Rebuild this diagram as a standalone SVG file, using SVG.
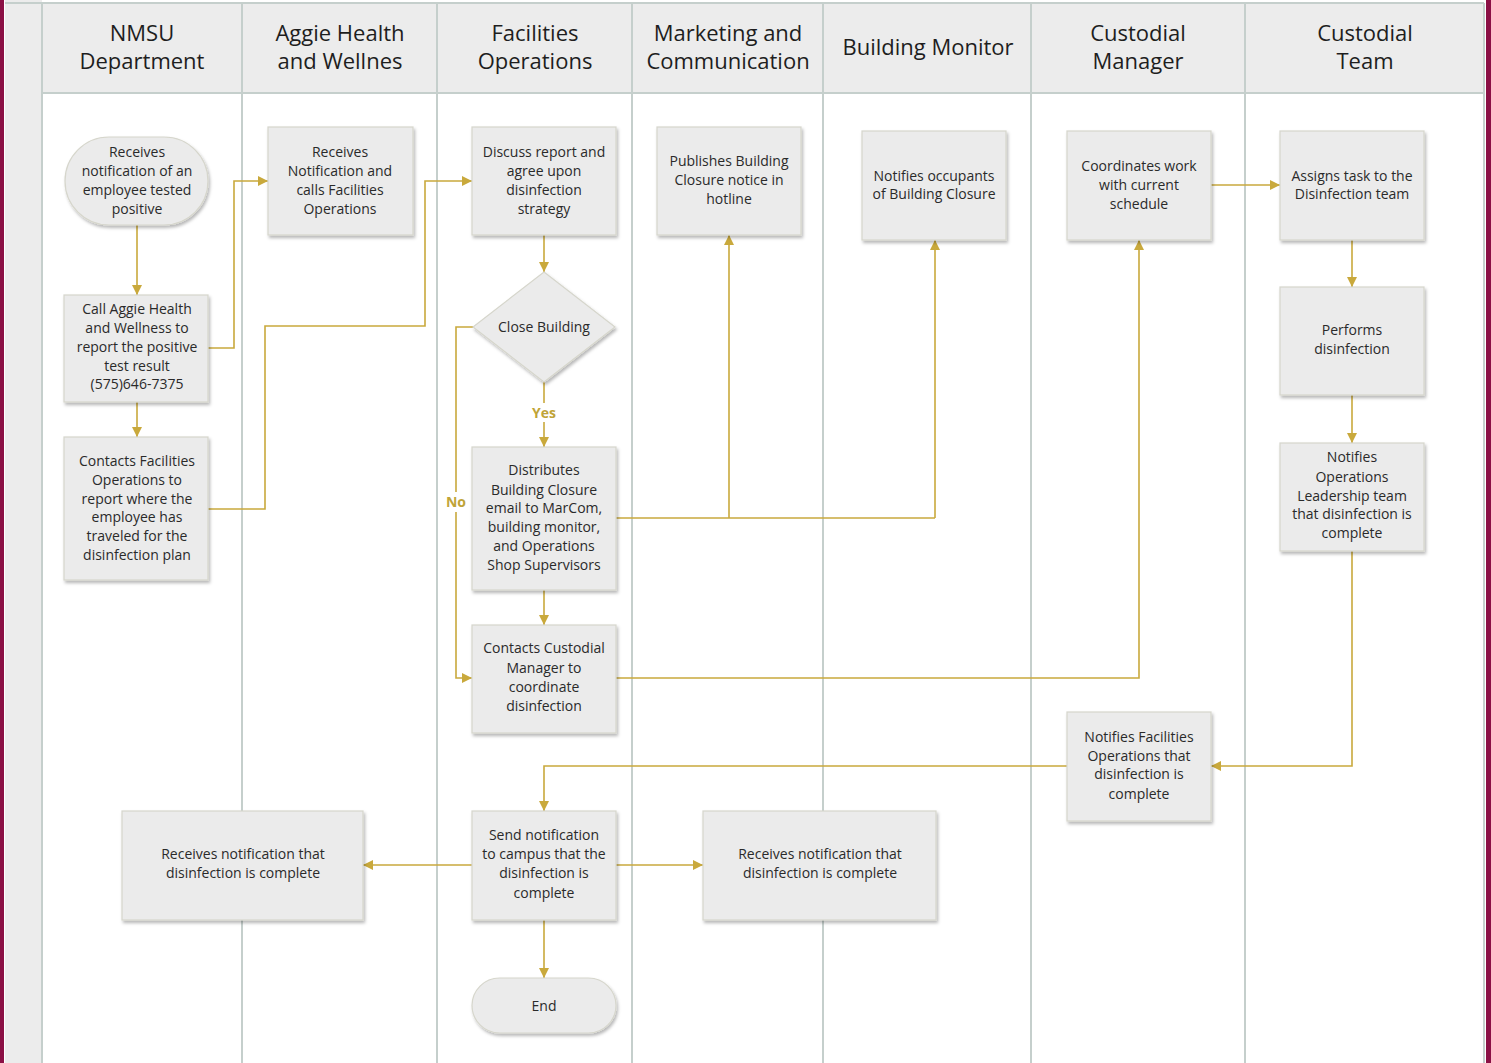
<svg xmlns="http://www.w3.org/2000/svg" width="1491" height="1063" viewBox="0 0 1491 1063">
<defs>
<style>
.hdr{fill:#ececec}
.lane{stroke:#c5cfcc;stroke-width:2;fill:none}
.ht{font-family:"Open Sans","Noto Sans",sans-serif;font-size:22px;fill:#1e1e1e;text-anchor:middle}
.box{fill:#ebebeb;stroke:#d6d6cc;stroke-width:1.2;filter:url(#sh)}
.t{font-family:"Open Sans","Noto Sans",sans-serif;font-size:14px;fill:#2a2a2a;text-anchor:middle}
.c{stroke:#c9a93c;stroke-width:1.6;fill:none}
.ca{stroke:#c9a93c;stroke-width:1.6;fill:none;marker-end:url(#ah)}
.lbl{font-family:"Open Sans","Noto Sans",sans-serif;font-size:14px;font-weight:bold;fill:#bfa438;text-anchor:middle}
</style>
<filter id="sh" x="-10%" y="-10%" width="130%" height="130%">
<feDropShadow dx="1.5" dy="2.5" stdDeviation="1.5" flood-color="#000" flood-opacity="0.28"/>
</filter>
<marker id="ah" viewBox="0 0 10 10" refX="10" refY="5" markerWidth="10" markerHeight="10" markerUnits="userSpaceOnUse" orient="auto">
<path d="M0,0 L10,5 L0,10 z" fill="#c9a93c"/>
</marker>
</defs>
<rect x="0" y="0" width="1491" height="1063" fill="#ffffff"/>
<g id="lanes">
<rect x="5" y="0" width="37" height="1063" fill="#ececec"/>
<rect class="hdr" x="42" y="3" width="1442" height="90"/>
<line class="lane" x1="5" y1="3" x2="1484" y2="3"/>
<line class="lane" x1="42" y1="93" x2="1484" y2="93"/>
<line class="lane" x1="42" y1="3" x2="42" y2="1063"/>
<line class="lane" x1="242" y1="3" x2="242" y2="1063"/>
<line class="lane" x1="437" y1="3" x2="437" y2="1063"/>
<line class="lane" x1="632" y1="3" x2="632" y2="1063"/>
<line class="lane" x1="823" y1="3" x2="823" y2="1063"/>
<line class="lane" x1="1031" y1="3" x2="1031" y2="1063"/>
<line class="lane" x1="1245" y1="3" x2="1245" y2="1063"/>
<line class="lane" x1="1484" y1="3" x2="1484" y2="1063"/>
<text class="ht" x="142" y="41">NMSU</text><text class="ht" x="142" y="69">Department</text>
<text class="ht" x="340" y="41">Aggie Health</text><text class="ht" x="340" y="69">and Wellnes</text>
<text class="ht" x="535" y="41">Facilities</text><text class="ht" x="535" y="69">Operations</text>
<text class="ht" x="728" y="41">Marketing and</text><text class="ht" x="728" y="69">Communication</text>
<text class="ht" x="928" y="55">Building Monitor</text>
<text class="ht" x="1138" y="41">Custodial</text><text class="ht" x="1138" y="69">Manager</text>
<text class="ht" x="1365" y="41">Custodial</text><text class="ht" x="1365" y="69">Team</text>
</g>
<rect x="0" y="0" width="4" height="1063" fill="#8b1045"/>
<rect x="1486" y="0" width="5" height="1063" fill="#8b1045"/>
<g id="connectors">
<path class="ca" d="M137,225 V295"/>
<path class="ca" d="M137,402 V437"/>
<path class="ca" d="M208,348 H234 V181 H268"/>
<path class="ca" d="M208,509 H265 V326 H425 V181 H472"/>
<path class="ca" d="M544,235 V272"/>
<path class="c" d="M544,382 V403"/>
<path class="ca" d="M544,422 V447"/>
<path class="c" d="M473,327 H456 V492"/>
<path class="ca" d="M456,512 V678 H472"/>
<path class="c" d="M616,518 H935"/>
<path class="ca" d="M729,518 V235"/>
<path class="ca" d="M935,518 V240"/>
<path class="ca" d="M544,590 V625"/>
<path class="ca" d="M616,678 H1139 V240"/>
<path class="ca" d="M1211,185 H1280"/>
<path class="ca" d="M1352,240 V287"/>
<path class="ca" d="M1352,395 V443"/>
<path class="ca" d="M1352,551 V766 H1211"/>
<path class="ca" d="M1067,766 H544 V811"/>
<path class="ca" d="M472,865 H363"/>
<path class="ca" d="M616,865 H703"/>
<path class="ca" d="M544,920 V978"/>
<text class="lbl" x="544" y="418">Yes</text>
<text class="lbl" x="456" y="507">No</text>
</g>
<g id="n1"><rect class="box" x="65" y="137" width="143" height="88" rx="44"/>
<text class="t"><tspan x="137" y="157">Receives</tspan><tspan x="137" y="176">notification of an</tspan><tspan x="137" y="195">employee tested</tspan><tspan x="137" y="214">positive</tspan></text></g>
<g id="n2"><rect class="box" x="64" y="295" width="144" height="107"/>
<text class="t"><tspan x="137" y="314">Call Aggie Health</tspan><tspan x="137" y="333">and Wellness to</tspan><tspan x="137" y="352">report the positive</tspan><tspan x="137" y="371">test result</tspan><tspan x="137" y="389">(575)646-7375</tspan></text></g>
<g id="n3"><rect class="box" x="64" y="437" width="144" height="143"/>
<text class="t"><tspan x="137" y="466">Contacts Facilities</tspan><tspan x="137" y="485">Operations to</tspan><tspan x="137" y="504">report where the</tspan><tspan x="137" y="522">employee has</tspan><tspan x="137" y="541">traveled for the</tspan><tspan x="137" y="560">disinfection plan</tspan></text></g>
<g id="n4"><rect class="box" x="268" y="127" width="145" height="108"/>
<text class="t"><tspan x="340" y="157">Receives</tspan><tspan x="340" y="176">Notification and</tspan><tspan x="340" y="195">calls Facilities</tspan><tspan x="340" y="214">Operations</tspan></text></g>
<g id="n5"><rect class="box" x="472" y="127" width="144" height="108"/>
<text class="t"><tspan x="544" y="157">Discuss report and</tspan><tspan x="544" y="176">agree upon</tspan><tspan x="544" y="195">disinfection</tspan><tspan x="544" y="214">strategy</tspan></text></g>
<g id="n6"><path class="box" d="M544,272 L615,327 L544,382 L473,327 Z"/>
<text class="t" x="544" y="332">Close Building</text></g>
<g id="n7"><rect class="box" x="472" y="447" width="144" height="143"/>
<text class="t"><tspan x="544" y="475">Distributes</tspan><tspan x="544" y="495">Building Closure</tspan><tspan x="544" y="513">email to MarCom,</tspan><tspan x="544" y="532">building monitor,</tspan><tspan x="544" y="551">and Operations</tspan><tspan x="544" y="570">Shop Supervisors</tspan></text></g>
<g id="n8"><rect class="box" x="472" y="625" width="144" height="108"/>
<text class="t"><tspan x="544" y="653">Contacts Custodial</tspan><tspan x="544" y="673">Manager to</tspan><tspan x="544" y="692">coordinate</tspan><tspan x="544" y="711">disinfection</tspan></text></g>
<g id="n9"><rect class="box" x="472" y="811" width="144" height="109"/>
<text class="t"><tspan x="544" y="840">Send notification</tspan><tspan x="544" y="859">to campus that the</tspan><tspan x="544" y="878">disinfection is</tspan><tspan x="544" y="898">complete</tspan></text></g>
<g id="n10"><rect class="box" x="472" y="978" width="144" height="55" rx="27.5"/>
<text class="t" x="544" y="1011">End</text></g>
<g id="n11"><rect class="box" x="122" y="811" width="241" height="109"/>
<text class="t"><tspan x="243" y="859">Receives notification that</tspan><tspan x="243" y="878">disinfection is complete</tspan></text></g>
<g id="n12"><rect class="box" x="703" y="811" width="233" height="109"/>
<text class="t"><tspan x="820" y="859">Receives notification that</tspan><tspan x="820" y="878">disinfection is complete</tspan></text></g>
<g id="n13"><rect class="box" x="657" y="127" width="144" height="108"/>
<text class="t"><tspan x="729" y="166">Publishes Building</tspan><tspan x="729" y="185">Closure notice in</tspan><tspan x="729" y="204">hotline</tspan></text></g>
<g id="n14"><rect class="box" x="862" y="131" width="144" height="109"/>
<text class="t"><tspan x="934" y="181">Notifies occupants</tspan><tspan x="934" y="199">of Building Closure</tspan></text></g>
<g id="n15"><rect class="box" x="1067" y="131" width="144" height="109"/>
<text class="t"><tspan x="1139" y="171">Coordinates work</tspan><tspan x="1139" y="190">with current</tspan><tspan x="1139" y="209">schedule</tspan></text></g>
<g id="n16"><rect class="box" x="1280" y="131" width="144" height="109"/>
<text class="t"><tspan x="1352" y="181">Assigns task to the</tspan><tspan x="1352" y="199">Disinfection team</tspan></text></g>
<g id="n17"><rect class="box" x="1280" y="287" width="144" height="108"/>
<text class="t"><tspan x="1352" y="335">Performs</tspan><tspan x="1352" y="354">disinfection</tspan></text></g>
<g id="n18"><rect class="box" x="1280" y="443" width="144" height="108"/>
<text class="t"><tspan x="1352" y="462">Notifies</tspan><tspan x="1352" y="482">Operations</tspan><tspan x="1352" y="501">Leadership team</tspan><tspan x="1352" y="519">that disinfection is</tspan><tspan x="1352" y="538">complete</tspan></text></g>
<g id="n19"><rect class="box" x="1067" y="712" width="144" height="109"/>
<text class="t"><tspan x="1139" y="742">Notifies Facilities</tspan><tspan x="1139" y="761">Operations that</tspan><tspan x="1139" y="779">disinfection is</tspan><tspan x="1139" y="799">complete</tspan></text></g>
</svg>
